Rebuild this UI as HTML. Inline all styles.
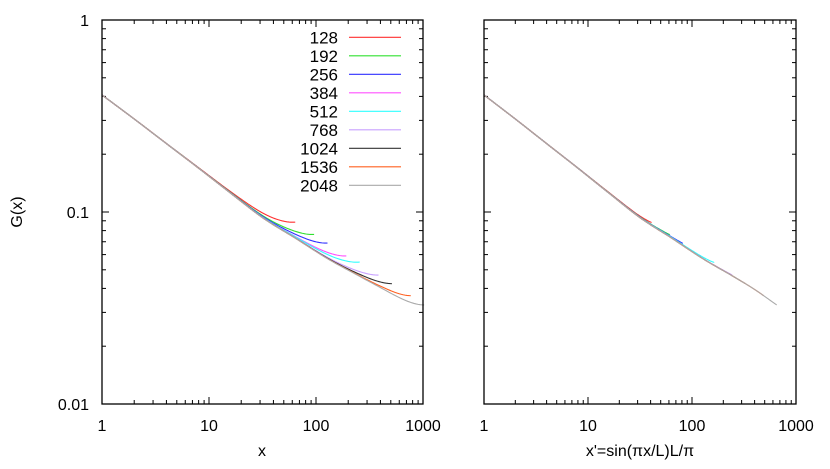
<!DOCTYPE html>
<html><head><meta charset="utf-8"><style>
body{margin:0;background:#fff}
svg text{font-family:"Liberation Sans",sans-serif;fill:#000}
</style></head><body>
<svg id="chart" width="830" height="464" xmlns="http://www.w3.org/2000/svg">
<g id="g"></g>
</svg>
<script>
// collapsed (scaling) curve, indexed by x'
const masterX=[1,2,4,8,16,32,64,128,256,400,652];
const masterG=[0.407,0.305,0.227,0.169,0.125,0.093,0.073,0.057,0.0458,0.0395,0.0328];
const seriesL=[128,192,256,384,512,768,1024,1536,2048];
const seriesColors=['#ff3030','#30e030','#3030ff','#ff50ff','#30ffff','#c8a0ff','#333333','#ff6020','#aaaaaa'];
// small correction factor vs fraction of L/2
const ratioFracs=[0,0.5,1];
const ratio128=[1,1.016,1.04];
const ratio192=[1,1.012,1.03];
const ratio256=[1,1.012,1.03];
const ratio384=[1,1.008,1.02];
const ratio512=[1,1.016,1.04];
const ratio768=[1,1.004,1.01];
const ratio1024=[1,1,1];
const ratio1536=[1,1,1];
const ratio2048=[1,1,1];
const seriesRatios=[ratio128,ratio192,ratio256,ratio384,ratio512,ratio768,ratio1024,ratio1536,ratio2048];
const xTicks=[1,10,100,1000];
const xTickLabels=['1','10','100','1000'];
const yTicks=[1,0.1,0.01];
const yTickLabels=['1','0.1','0.01'];

const NS='http://www.w3.org/2000/svg';
const G=document.getElementById('g');
function el(t,a,p){const e=document.createElementNS(NS,t);for(const k in a)e.setAttribute(k,a[k]);(p||G).appendChild(e);return e;}
const yTop=20,yBot=404;
function yS(v){return yTop+(0-Math.log10(v))*(yBot-yTop)/2;}
const panels=[{x0:102,x1:423,name:'left'},{x0:484,x1:796,name:'right'}];
function xS(p,v){return p.x0+Math.log10(v)*(p.x1-p.x0)/3;}
function makeSpline(xs,ys){
  const n=xs.length,d=[],m=[];
  for(let i=0;i<n-1;i++)d.push((ys[i+1]-ys[i])/(xs[i+1]-xs[i]));
  m[0]=d[0];m[n-1]=d[n-2];
  for(let i=1;i<n-1;i++)m[i]=(d[i-1]*d[i]<=0)?0:(d[i-1]+d[i])/2;
  for(let i=0;i<n-1;i++){if(d[i]==0){m[i]=m[i+1]=0;continue;}const a=m[i]/d[i],b=m[i+1]/d[i],s=a*a+b*b;if(s>9){const t=3/Math.sqrt(s);m[i]=t*a*d[i];m[i+1]=t*b*d[i];}}
  return function(x){let i=0;while(i<n-2&&x>xs[i+1])i++;const h=xs[i+1]-xs[i],t=(x-xs[i])/h,t2=t*t,t3=t2*t;
    return (2*t3-3*t2+1)*ys[i]+(t3-2*t2+t)*h*m[i]+(-2*t3+3*t2)*ys[i+1]+(t3-t2)*h*m[i+1];};
}
const masterSpline=makeSpline(masterX.map(Math.log10),masterG.map(Math.log10));
function master(x){return Math.pow(10,masterSpline(Math.log10(x)));}
function lin(xs,ys,x){for(let i=0;i<xs.length-1;i++){if(x<=xs[i+1]||i==xs.length-2){const t=(x-xs[i])/(xs[i+1]-xs[i]);return ys[i]+t*(ys[i+1]-ys[i]);}}}

panels.forEach((p,pi)=>{
  const pg=el('g',{});
  
  
  for(let d=0;d<3;d++)for(let m=1;m<=9;m++){const v=Math.pow(10,d)*m;const X=xS(p,v);const L=m==1?7:4;
    el('line',{x1:X,x2:X,y1:yBot,y2:yBot-L,stroke:'#000','stroke-width':1},pg);
    el('line',{x1:X,x2:X,y1:yTop,y2:yTop+L,stroke:'#000','stroke-width':1},pg);}
  for(let d=-2;d<0;d++)for(let m=1;m<=9;m++){const v=Math.pow(10,d)*m;const Y=yS(v);const L=m==1?7:4;
    el('line',{x1:p.x0,x2:p.x0+L,y1:Y,y2:Y,stroke:'#000','stroke-width':1},pg);
    el('line',{x1:p.x1,x2:p.x1-L,y1:Y,y2:Y,stroke:'#000','stroke-width':1},pg);}
  xTicks.forEach((v,i)=>{const t=el('text',{x:xS(p,v),y:431,'font-size':16,'text-anchor':'middle'},pg);t.textContent=xTickLabels[i];
    
    });
  if(pi==0)yTicks.forEach((v,i)=>{const t=el('text',{x:89,y:yS(v)+6,'font-size':16,'text-anchor':'end'},pg);t.textContent=yTickLabels[i];
    
    });
  seriesL.forEach((L,si)=>{
    const half=L/2;let pts=[];
    for(let k=0;k<=160;k++){const x=Math.pow(10,Math.log10(half)*k/160);
      const xp=Math.sin(Math.PI*x/L)*L/Math.PI;
      const g=master(xp)*lin(ratioFracs,seriesRatios[si],x/half);
      const xx=pi==0?x:xp;
      pts.push(xS(p,xx).toFixed(2)+','+yS(g).toFixed(2));}
    const pl=el('polyline',{points:pts.join(' '),fill:'none',stroke:seriesColors[si],'stroke-width':1.1},pg);
    
    
  });
  el('rect',{x:p.x0,y:yTop,width:p.x1-p.x0,height:yBot-yTop,fill:'none',stroke:'#000','stroke-width':1.3},pg);
});
seriesL.forEach((L,i)=>{const y=37.3+i*18.5;
  const lg=el('g',{});
  
  
  const t=el('text',{x:338,y:y+6,'font-size':17,'text-anchor':'end'},lg);t.textContent=L;
  el('line',{x1:349,x2:401,y1:y,y2:y,stroke:seriesColors[i],'stroke-width':1.1},lg);});
let t=el('text',{x:262,y:456,'font-size':16,'text-anchor':'middle'});t.textContent='x';


t=el('text',{x:640,y:456,'font-size':16,'text-anchor':'middle'});t.textContent="x'=sin(\u03c0x/L)L/\u03c0";


t=el('text',{x:22,y:212,'font-size':16,'text-anchor':'middle',transform:'rotate(-90 22 212)'});t.textContent='G(x)';


</script>
</body></html>
